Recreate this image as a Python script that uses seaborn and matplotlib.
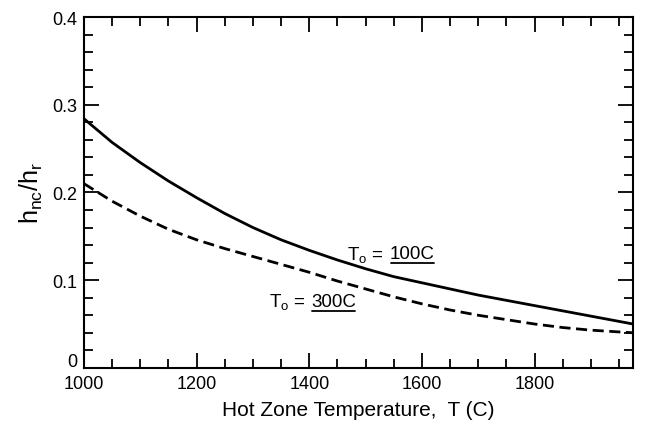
import numpy as np
import pandas as pd
import matplotlib
matplotlib.use("Agg")
import matplotlib.pyplot as plt
from matplotlib.ticker import MultipleLocator, FixedLocator
from matplotlib.lines import Line2D
from matplotlib.transforms import ScaledTranslation
import seaborn as sns

# ---- data ----
temp = [1000, 1050, 1100, 1150, 1200, 1250, 1300, 1350, 1400, 1450, 1500,
        1550, 1600, 1650, 1700, 1750, 1800, 1850, 1900, 1950, 1975]
ratio_100C = [0.284, 0.257, 0.234, 0.213, 0.194, 0.176, 0.160, 0.146, 0.134,
              0.123, 0.113, 0.104, 0.097, 0.090, 0.083, 0.077, 0.071, 0.065,
              0.059, 0.053, 0.050]
ratio_300C = [0.210, 0.190, 0.173, 0.158, 0.146, 0.136, 0.127, 0.118, 0.109,
              0.099, 0.090, 0.081, 0.073, 0.066, 0.060, 0.055, 0.050, 0.046,
              0.043, 0.041, 0.040]
series_names = ["100C", "300C"]
x_ticks = [1000, 1200, 1400, 1600, 1800]
y_ticks = [0, 0.1, 0.2, 0.3, 0.4]
y_tick_labels = ["0", "0.1", "0.2", "0.3", "0.4"]

df = pd.DataFrame({
    "T": temp + temp,
    "ratio": ratio_100C + ratio_300C,
    "To": [series_names[0]] * len(temp) + [series_names[1]] * len(temp),
})

sns.set_theme(style="white")
plt.rcParams["font.family"] = ["Liberation Sans", "DejaVu Sans"]
plt.rcParams["mathtext.fontset"] = "custom"
plt.rcParams["mathtext.rm"] = "Liberation Sans"
plt.rcParams["mathtext.it"] = "Liberation Sans"

fig = plt.figure(figsize=(6.48, 4.35), dpi=100)
ax = fig.add_axes([0.1296, 0.152, 0.8474, 0.8066])

sns.lineplot(data=df, x="T", y="ratio", style="To", color="black",
             dashes={"100C": "", "300C": (4, 2)}, linewidth=2.0,
             legend=False, ax=ax)

ax.set_xlim(1000, 1975)
ax.set_ylim(0, 0.4)
ax.xaxis.set_major_locator(FixedLocator(x_ticks))
ax.xaxis.set_minor_locator(MultipleLocator(50))
ax.yaxis.set_major_locator(FixedLocator(y_ticks))
ax.yaxis.set_minor_locator(MultipleLocator(0.02))
ax.set_yticklabels(y_tick_labels)

for s in ax.spines.values():
    s.set_visible(True)
    s.set_color("black")
    s.set_linewidth(1.5)

ax.tick_params(which="both", direction="in", top=True, right=True,
               bottom=True, left=True, color="black", width=1.3,
               labelsize=13, labelcolor="black")
ax.tick_params(which="major", length=11, pad=5)
ax.tick_params(which="minor", length=6.5)

# lift the "0" label slightly above the corner, as in the reference
zero_lab = ax.get_yticklabels()[0]
zero_lab.set_transform(zero_lab.get_transform()
                       + ScaledTranslation(0, 6 / 72, fig.dpi_scale_trans))

ax.set_xlabel("Hot Zone Temperature,  T (C)", fontsize=15, labelpad=6,
              color="black")
ax.set_ylabel(r"$\mathregular{h_{nc}/h_r}$", fontsize=18, labelpad=5,
              color="black")

# curve labels
fs = 13.5
t1 = ax.text(1467, 0.130, r"$\mathregular{T_o}$ =", fontsize=fs,
             va="center", ha="left", color="black")
t2 = ax.text(1328, 0.076, r"$\mathregular{T_o}$ =", fontsize=fs,
             va="center", ha="left", color="black")
fig.canvas.draw()
r = fig.canvas.get_renderer()
inv = ax.transData.inverted()
for t, lab in [(t1, "100C"), (t2, "300C")]:
    bb = t.get_window_extent(r)
    xd, yd = inv.transform((bb.x1 + 6, (bb.y0 + bb.y1) / 2))
    tt = ax.text(xd, t.get_position()[1], lab, fontsize=fs, va="center",
                 ha="left", color="black")
    fig.canvas.draw()
    b2 = tt.get_window_extent(r)
    p0 = fig.transFigure.inverted().transform((b2.x0 + 1, b2.y0 - 1))
    p1 = fig.transFigure.inverted().transform((b2.x1 - 1, b2.y0 - 1))
    fig.add_artist(Line2D([p0[0], p1[0]], [p0[1], p1[1]], color="black",
                          linewidth=1.3, transform=fig.transFigure))

fig.savefig("out.png", dpi=100)
